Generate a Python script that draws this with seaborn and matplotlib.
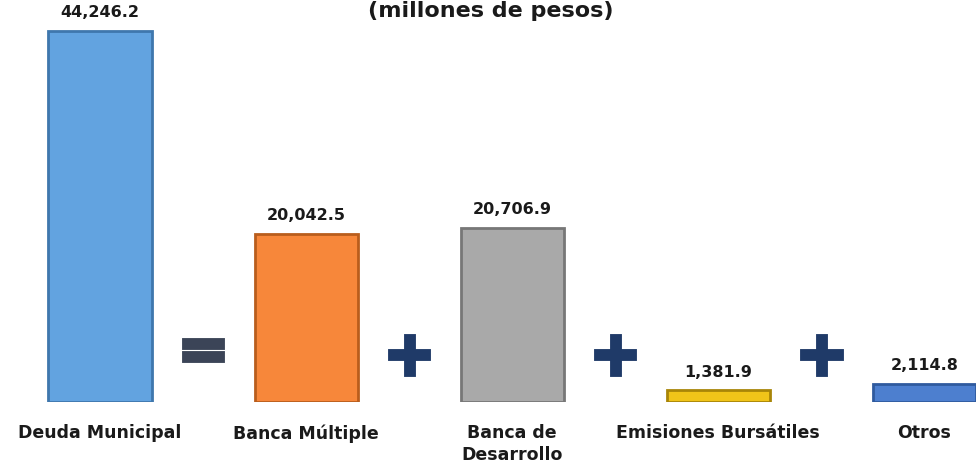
import matplotlib
matplotlib.use("Agg")
import matplotlib.pyplot as plt
import matplotlib.patheffects as pe
import seaborn as sns
import pandas as pd

categories = ["Deuda Municipal", "Banca Múltiple", "Banca de\nDesarrollo",
              "Emisiones Bursátiles", "Otros"]
values = [44246.2, 20042.5, 20706.9, 1381.9, 2114.8]
value_labels = ["44,246.2", "20,042.5", "20,706.9", "1,381.9", "2,114.8"]
operators = ["=", "+", "+", "+"]
colors = ["#62a3e0", "#f7873a", "#a9a9a9", "#f0c419", "#4d7fcf"]
edge_colors = ["#3f77ad", "#b95d1c", "#777777", "#a88508", "#2f5a9e"]
title = "(millones de pesos)"

sns.set_theme(style="white")
plt.rcParams["font.family"] = ["DejaVu Sans"]

df = pd.DataFrame({"cat": categories, "val": values})

fig = plt.figure(figsize=(9.76, 4.67), dpi=100)
ax = fig.add_axes([0, 65 / 467, 1, 402 / 467])

sns.barplot(data=df, x="cat", y="val", hue="cat", palette=colors,
            legend=False, width=0.5, ax=ax, saturation=1)

for p, ec in zip(ax.patches, edge_colors):
    p.set_edgecolor(ec)
    p.set_linewidth(2.0)

ax.set_xlim(-0.485, 4.25)
ax.set_ylim(0, 44246.2 * 402 / 371)

for p, lab in zip(ax.patches, value_labels):
    ax.text(p.get_x() + p.get_width() / 2, p.get_height() + 1300, lab,
            ha="center", va="bottom", fontsize=11.5, fontweight="bold",
            color="#1a1a1a")

op_colors = ["#3b4457", "#1f3a68", "#1f3a68", "#1f3a68"]
op_y = [5900, 5300, 5300, 5300]
for i, (op, c, yy) in enumerate(zip(operators, op_colors, op_y)):
    ax.text(i + 0.5, yy, op, ha="center", va="center", fontsize=44,
            fontweight="bold", color=c,
            path_effects=[pe.withStroke(linewidth=3.5, foreground=c,
                                        joinstyle="miter", capstyle="projecting")])

ax.set_xlabel("")
ax.set_ylabel("")
ax.set_yticks([])
ax.tick_params(axis="x", length=0, pad=16)
ax.set_xticks(range(len(categories)))
ax.set_xticklabels(categories, fontsize=12.5, fontweight="bold", color="#1a1a1a",
                   va="top", linespacing=1.25)
for s in ax.spines.values():
    s.set_visible(False)

fig.text(0.503, 0.997, title, ha="center", va="top", fontsize=16,
         fontweight="bold", color="#1a1a1a")

fig.savefig("out.png", dpi=100)
